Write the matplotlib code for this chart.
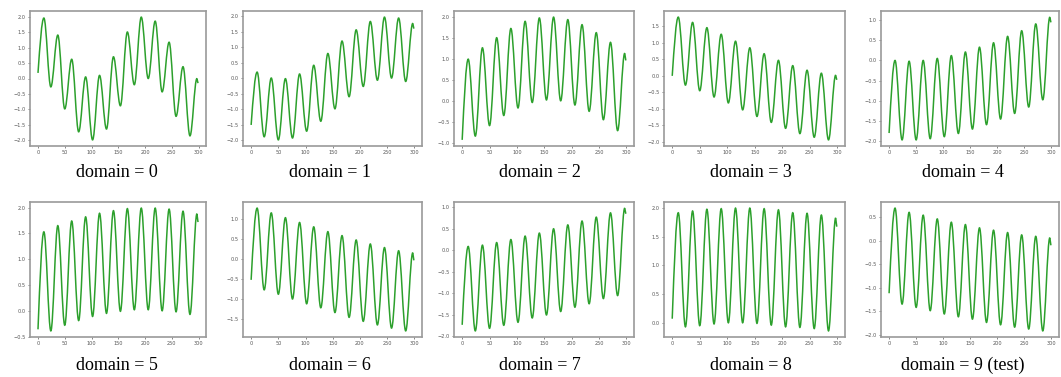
import matplotlib
matplotlib.use("Agg")
import matplotlib.pyplot as plt
from matplotlib.path import Path
from matplotlib.patches import PathPatch

# time steps where the curves turn (start, peaks / troughs alternating, end)
steps = [0, 11, 24, 37, 50, 63, 76, 89, 102, 115, 128, 141, 154,
         167, 180, 193, 206, 219, 232, 245, 258, 271, 284, 297, 299]

dom0 = [0.18, 1.95, -0.27, 1.40, -0.98, 0.62, -1.72, 0.05, -1.98, 0.10, -1.63, 0.70, -0.88,
        1.50, -0.20, 1.98, 0.00, 1.85, -0.43, 1.17, -1.22, 0.38, -1.85, 0.00, -0.15]
dom1 = [-1.50, 0.20, -1.88, 0.01, -1.98, -0.01, -1.92, 0.14, -1.70, 0.42, -1.38, 0.80, -0.98,
        1.20, -0.59, 1.56, -0.26, 1.83, -0.06, 1.97, 0.01, 1.94, -0.10, 1.77, 1.60]
dom2 = [-0.93, 0.99, -0.84, 1.26, -0.59, 1.50, -0.35, 1.72, -0.17, 1.89, -0.04, 1.97, 0.02,
        1.99, 0.00, 1.93, -0.10, 1.81, -0.25, 1.62, -0.45, 1.39, -0.71, 1.13, 0.96]
dom3 = [-0.01, 1.77, -0.29, 1.61, -0.46, 1.45, -0.65, 1.25, -0.83, 1.04, -1.04, 0.84, -1.24,
        0.66, -1.42, 0.46, -1.60, 0.30, -1.76, 0.16, -1.87, 0.07, -1.95, 0.01, -0.13]
dom4 = [-1.81, 0.00, -1.98, -0.02, -1.98, 0.00, -1.95, 0.05, -1.90, 0.12, -1.82, 0.21, -1.71,
        0.33, -1.60, 0.44, -1.46, 0.60, -1.32, 0.74, -1.16, 0.91, -0.98, 1.08, 0.95]
dom5 = [-0.36, 1.53, -0.39, 1.65, -0.28, 1.74, -0.19, 1.82, -0.11, 1.89, -0.05, 1.94, -0.01,
        1.98, 0.02, 1.99, 0.02, 1.99, 0.00, 1.97, -0.02, 1.93, -0.07, 1.88, 1.72]
dom6 = [-0.52, 1.28, -0.77, 1.16, -0.88, 1.04, -1.00, 0.92, -1.12, 0.81, -1.22, 0.69, -1.34,
        0.59, -1.46, 0.48, -1.56, 0.38, -1.65, 0.29, -1.73, 0.21, -1.80, 0.16, -0.03]
dom7 = [-1.73, 0.09, -1.87, 0.12, -1.81, 0.18, -1.74, 0.25, -1.67, 0.33, -1.57, 0.40, -1.50,
        0.50, -1.42, 0.59, -1.32, 0.68, -1.24, 0.77, -1.12, 0.87, -1.05, 0.98, 0.85]
dom8 = [0.08, 1.91, -0.06, 1.94, -0.04, 1.97, -0.01, 1.98, 0.01, 1.99, 0.01, 1.99, 0.00,
        1.98, -0.03, 1.96, -0.06, 1.91, -0.07, 1.90, -0.09, 1.87, -0.13, 1.82, 1.67]
dom9 = [-1.12, 0.69, -1.35, 0.60, -1.42, 0.54, -1.49, 0.46, -1.56, 0.39, -1.62, 0.34, -1.67,
        0.27, -1.74, 0.22, -1.79, 0.17, -1.84, 0.12, -1.88, 0.09, -1.92, 0.06, -0.10]

series = [dom0, dom1, dom2, dom3, dom4, dom5, dom6, dom7, dom8, dom9]
captions = ["domain = 0", "domain = 1", "domain = 2", "domain = 3", "domain = 4",
            "domain = 5", "domain = 6", "domain = 7", "domain = 8", "domain = 9 (test)"]


def smooth_path(xs, ys, k=0.36):
    """bezier line through the turning points, flat at each peak / trough"""
    verts = [(xs[0], ys[0])]
    codes = [Path.MOVETO]
    n = len(xs)
    for i in range(n - 1):
        x0, y0, x1, y1 = xs[i], ys[i], xs[i + 1], ys[i + 1]
        dx, dy = x1 - x0, y1 - y0
        if i == n - 2:
            verts.append((x1, y1))
            codes.append(Path.LINETO)
            continue
        if i == 0:
            c1 = (x0 + dx / 3, y0 + dy * 0.5)
        else:
            c1 = (x0 + k * dx, y0)
        c2 = (x1 - k * dx, y1)
        verts += [c1, c2, (x1, y1)]
        codes += [Path.CURVE4] * 3
    return Path(verts, codes)


W, H = 1061, 377
fig = plt.figure(figsize=(W / 100, H / 100), dpi=100)

# axes boxes in pixels (left, right) per column, (top, bottom) per row
cols = [(30, 206), (243, 422), (454, 634), (664, 845), (881, 1059)]
rows = [(11, 146), (202, 337)]
cap_x = [117, 330, 540, 751, 963]
cap_y = [172, 365]

for i, vals in enumerate(series):
    r, c = divmod(i, 5)
    l, rr = cols[c]
    t, b = rows[r]
    ax = fig.add_axes([l / W, 1 - b / H, (rr - l) / W, (b - t) / H])
    ax.add_patch(PathPatch(smooth_path(steps, vals), fill=False,
                           edgecolor="#2ca02c", lw=1.1))
    ax.autoscale_view()
    ax.set_xticks([0, 50, 100, 150, 200, 250, 300])
    ax.tick_params(labelsize=3.6, colors="#555555", length=1.5, width=0.5, pad=1.5)
    for s in ax.spines.values():
        s.set_color("#9a9a9a")
        s.set_linewidth(1.2)
    fig.text(cap_x[c] / W, 1 - cap_y[r] / H, captions[i], ha="center", va="center",
             family="Liberation Serif", fontsize=13)

fig.savefig("out.png", dpi=100)
